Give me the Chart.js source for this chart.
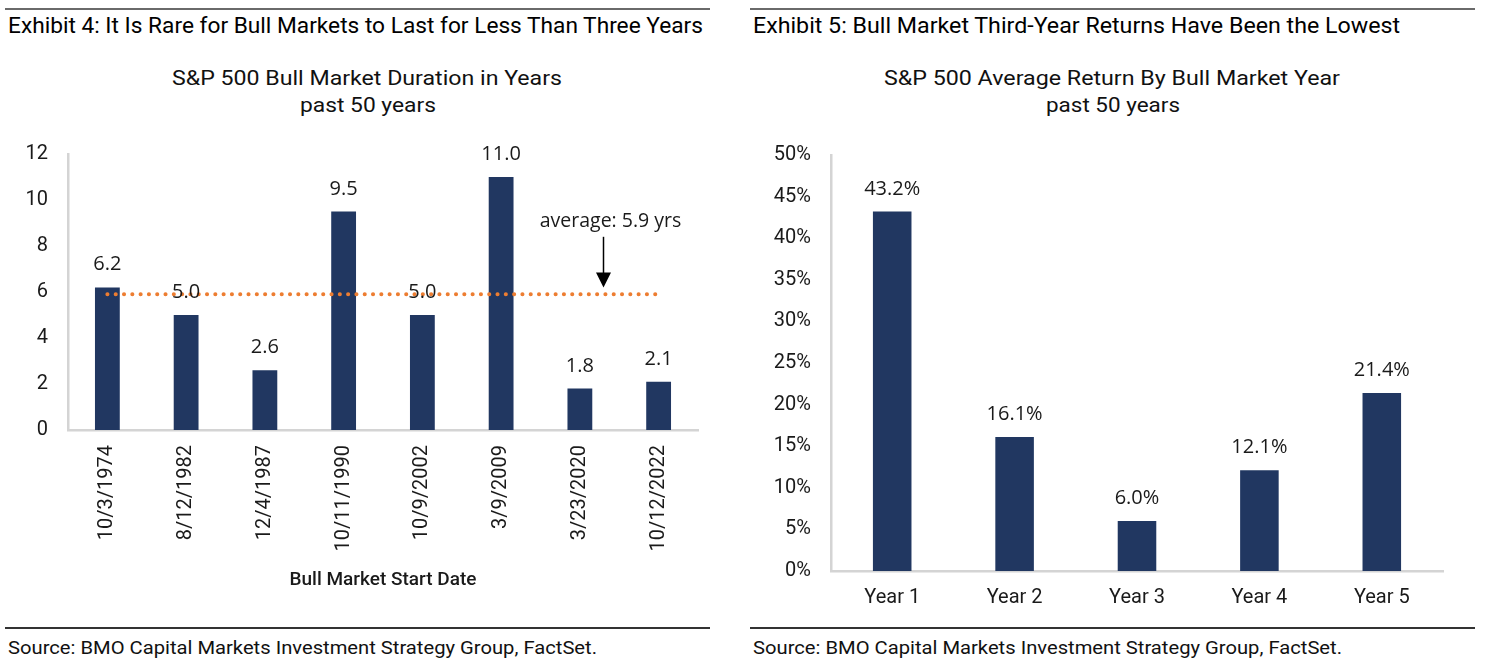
<!DOCTYPE html>
<html><head><meta charset="utf-8">
<script src="https://cdn.jsdelivr.net/npm/chart.js@4.4.0/dist/chart.umd.min.js"></script>
<style>
html,body{margin:0;padding:0;background:#fff;}
body{width:1491px;height:665px;position:relative;overflow:hidden;font-family:Roboto,'Noto Sans',sans-serif;color:#111;}
.rule{position:absolute;background:#6a6a6a;}
.txt{position:absolute;white-space:nowrap;line-height:1;transform-origin:left top;}
canvas{position:absolute;}
</style></head>
<body>
<div class="rule" style="left:5px;top:8px;width:705px;height:2px"></div>
<div class="rule" style="left:750px;top:8px;width:725px;height:2px"></div>
<div class="rule" style="left:5px;top:627px;width:705px;height:1.5px;background:#333"></div>
<div class="rule" style="left:750px;top:627px;width:725px;height:1.5px;background:#333"></div>

<div class="txt" data-x="8" data-w="695" data-cy="26" style="font-size:22px;font-weight:400;color:#000">Exhibit 4: It Is Rare for Bull Markets to Last for Less Than Three Years</div>
<div class="txt" data-x="753" data-w="647" data-cy="26" style="font-size:22px;font-weight:400;color:#000">Exhibit 5: Bull Market Third-Year Returns Have Been the Lowest</div>
<div class="txt" data-cx="367" data-w="390" data-cy="78" style="font-size:21px">S&amp;P 500 Bull Market Duration in Years</div>
<div class="txt" data-cx="368" data-w="136" data-cy="105" style="font-size:21px">past 50 years</div>
<div class="txt" data-cx="1112" data-w="456" data-cy="78" style="font-size:21px">S&amp;P 500 Average Return By Bull Market Year</div>
<div class="txt" data-cx="1113" data-w="134" data-cy="105" style="font-size:21px">past 50 years</div>
<div class="txt" data-x="8" data-w="589" data-cy="647" style="font-size:19px">Source: BMO Capital Markets Investment Strategy Group, FactSet.</div>
<div class="txt" data-x="753" data-w="589" data-cy="647" style="font-size:19px">Source: BMO Capital Markets Investment Strategy Group, FactSet.</div>

<canvas id="c1" style="left:0;top:120px;width:745px;height:480px" width="745" height="480"></canvas>
<canvas id="c2" style="left:745px;top:120px;width:746px;height:500px" width="746" height="500"></canvas>

<script>
// ---- data ----
const durationCats = ['10/3/1974','8/12/1982','12/4/1987','10/11/1990','10/9/2002','3/9/2009','3/23/2020','10/12/2022'];
const durationYears = [6.2, 5.0, 2.6, 9.5, 5.0, 11.0, 1.8, 2.1];
const averageLine = [5.9, 5.9, 5.9, 5.9, 5.9, 5.9, 5.9, 5.9];
const durationTicks = [0, 2, 4, 6, 8, 10, 12];
const averageNote = 'average: 5.9 yrs';
const durationAxisTitle = 'Bull Market Start Date';

const yearCats = ['Year 1','Year 2','Year 3','Year 4','Year 5'];
const yearReturns = [43.2, 16.1, 6.0, 12.1, 21.4];
const returnTicks = [0, 5, 10, 15, 20, 25, 30, 35, 40, 45, 50];

// ---- text fitting (layout) ----
document.querySelectorAll('.txt').forEach(el => {
  const r = el.getBoundingClientRect();
  const fs = parseFloat(el.style.fontSize);
  const w = +el.dataset.w;
  const s = w / r.width;
  const left = el.dataset.cx !== undefined ? (+el.dataset.cx - w / 2) : +el.dataset.x;
  el.style.left = left + 'px';
  el.style.top = (+el.dataset.cy - 0.486 * fs) + 'px';
  el.style.transform = 'scaleX(' + s + ')';
});

const NAVY = '#213761';
const ORANGE = '#ED7D31';
const AXIS = '#d4d4d4';
const TXT = '#1a1a1a';
const TICKFONT = {family: "Roboto, 'Noto Sans', sans-serif", size: 20};
const LABELFONT = "20px 'Open Sans', 'Noto Sans', sans-serif";

function labelPlugin(dsIndex, fmt, offset) {
  return {
    id: 'barLabels' + dsIndex,
    afterDatasetsDraw(chart) {
      const ctx = chart.ctx;
      const meta = chart.getDatasetMeta(dsIndex);
      const data = chart.data.datasets[dsIndex].data;
      ctx.save();
      ctx.font = LABELFONT;
      ctx.fillStyle = TXT;
      ctx.textAlign = 'center';
      ctx.textBaseline = 'alphabetic';
      meta.data.forEach((el, i) => ctx.fillText(fmt(data[i]), el.x, el.y - offset));
      ctx.restore();
    }
  };
}

const notePos = {xIndex: 6.3, textValue: 9.08, arrowTop: 8.4, arrowTip: 6.2};
const notePlugin = {
  id: 'avgNote',
  afterDraw(chart) {
    const {ctx, scales: {x, y}} = chart;
    const px = x.getPixelForValue(notePos.xIndex);
    const ty = y.getPixelForValue(notePos.textValue);
    const a0 = y.getPixelForValue(notePos.arrowTop);
    const a1 = y.getPixelForValue(notePos.arrowTip);
    ctx.save();
    ctx.font = "19.5px 'Open Sans', 'Noto Sans', sans-serif";
    ctx.fillStyle = TXT;
    ctx.textAlign = 'center';
    ctx.textBaseline = 'middle';
    ctx.fillText(averageNote, px + 7, ty);
    ctx.strokeStyle = '#000';
    ctx.lineWidth = 1.5;
    ctx.beginPath();
    ctx.moveTo(px, a0);
    ctx.lineTo(px, a1 - 14);
    ctx.stroke();
    ctx.fillStyle = '#000';
    ctx.beginPath();
    ctx.moveTo(px - 7.5, a1 - 15);
    ctx.lineTo(px + 7.5, a1 - 15);
    ctx.lineTo(px, a1);
    ctx.closePath();
    ctx.fill();
    ctx.restore();
  }
};

Chart.defaults.color = TXT;
Chart.defaults.animation = false;

new Chart(document.getElementById('c1'), {
  type: 'bar',
  data: {
    labels: durationCats,
    datasets: [
      {type: 'line', data: averageLine, borderColor: ORANGE, borderWidth: 4, borderDash: [0.1, 8.2],
       borderCapStyle: 'round', pointRadius: 0, fill: false, order: 0},
      {type: 'bar', data: durationYears, backgroundColor: NAVY, barPercentage: 0.315, categoryPercentage: 1, order: 1}
    ]
  },
  options: {
    responsive: false, maintainAspectRatio: false,
    devicePixelRatio: 1,
    layout: {padding: {left: 0, right: 47, top: 34, bottom: 0}},
    plugins: {legend: {display: false}, tooltip: {enabled: false}},
    scales: {
      x: {
        grid: {display: false, drawTicks: false},
        border: {display: true, color: AXIS, width: 2.5},
        ticks: {font: TICKFONT, color: TXT, minRotation: 90, maxRotation: 90, padding: 15, autoSkip: false},
        title: {display: true, text: durationAxisTitle, color: TXT,
                font: {family: "Roboto, 'Noto Sans', sans-serif", size: 19, weight: '500'}, padding: {top: 0, bottom: 8.6}},
        afterFit: s => { s.height = 170; }
      },
      y: {
        min: 0, max: 12,
        grid: {display: false, drawTicks: false},
        border: {display: true, color: AXIS, width: 2.5},
        ticks: {font: TICKFONT, color: TXT, padding: 20},
        afterBuildTicks: s => { s.ticks = durationTicks.map(v => ({value: v})); },
        afterFit: s => { s.width = 68; }
      }
    }
  },
  plugins: [labelPlugin(1, v => v.toFixed(1), 17), notePlugin]
});

new Chart(document.getElementById('c2'), {
  type: 'bar',
  data: {
    labels: yearCats,
    datasets: [
      {data: yearReturns, backgroundColor: NAVY, barPercentage: 0.315, categoryPercentage: 1}
    ]
  },
  options: {
    responsive: false, maintainAspectRatio: false,
    devicePixelRatio: 1,
    layout: {padding: {left: 0, right: 48, top: 35, bottom: 0}},
    plugins: {legend: {display: false}, tooltip: {enabled: false}},
    scales: {
      x: {
        grid: {display: false, drawTicks: false},
        border: {display: true, color: AXIS, width: 2.5},
        ticks: {font: TICKFONT, color: TXT, padding: 15},
        afterFit: s => { s.height = 500 - 35 - (571 - 155) ; }
      },
      y: {
        min: 0, max: 50,
        grid: {display: false, drawTicks: false},
        border: {display: true, color: AXIS, width: 2.5},
        ticks: {font: TICKFONT, color: TXT, padding: 20, callback: v => v + '%'},
        afterBuildTicks: s => { s.ticks = returnTicks.map(v => ({value: v})); },
        afterFit: s => { s.width = 86; }
      }
    }
  },
  plugins: [labelPlugin(0, v => v.toFixed(1) + '%', 17)]
});
</script>
</body></html>
